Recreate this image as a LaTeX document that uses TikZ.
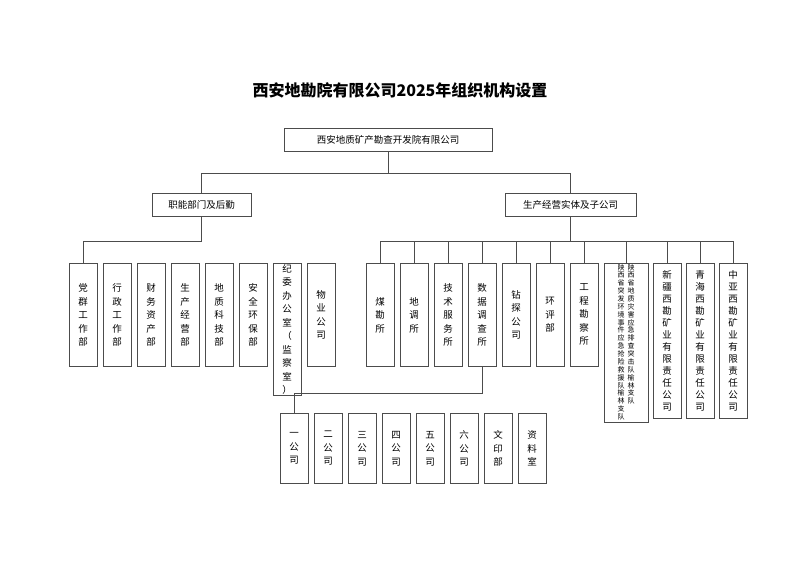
\documentclass[tikz,border=0pt]{standalone}
\usepackage{fontspec}
\setmainfont{Noto Sans CJK SC}
\usetikzlibrary{positioning}

\begin{document}
\begin{tikzpicture}[x=1pt,y=-1pt,thick,
  box/.style={draw=black!70,line width=0.8pt,font=\fontsize{9.5}{13.5}\selectfont,
    inner sep=1pt},
  hbox/.style={box,minimum height=23pt,anchor=north},
  vbox/.style={box,minimum width=28pt,align=center,anchor=north},
  link/.style={draw=black!70,line width=0.8pt}]
  \useasboundingbox (0,0) rectangle (800,565);

  \node[font=\fontsize{16}{18}\selectfont\bfseries] (title) at (400,90) {西安地勘院有限公司2025年组织机构设置};
  \node[hbox,minimum width=208pt] (root) at (388,128) {西安地质矿产勘查开发院有限公司};
  \node[hbox,minimum width=99pt] (func) at (201.5,193) {职能部门及后勤};
  \node[hbox,minimum width=131pt] (prod) at (570.5,193) {生产经营实体及子公司};

  % left departments
  \foreach \n/\t [count=\i from 0] in {l1/党\\群\\工\\作\\部, l2/行\\政\\工\\作\\部,
      l3/财\\务\\资\\产\\部, l4/生\\产\\经\\营\\部, l5/地\\质\\科\\技\\部,
      l6/安\\全\\环\\保\\部, l7/{\fontsize{9.5}{10}\selectfont 纪\\委\\办\\公\\室\\（\\监\\察\\室\\）}, l8/物\\业\\公\\司}
    \node[vbox,minimum height=103pt] (\n) at (83+34*\i,263) {\t};

  % right units
  \foreach \n/\t [count=\i from 0] in {r1/煤\\勘\\所, r2/地\\调\\所, r3/技\\术\\服\\务\\所,
      r4/数\\据\\调\\查\\所, r5/钻\\探\\公\\司, r6/环\\评\\部, r7/工\\程\\勘\\察\\所}
    \node[vbox,minimum height=103pt] (\n) at (380+34*\i,263) {\t};
  \node[vbox,minimum width=44pt,minimum height=155pt,font=\fontsize{7}{7.3}\selectfont] (r8) at (626,263)
    {\renewcommand\arraystretch{0.9}\begin{tabular}{@{}c@{\hspace{3pt}}c@{}}
     陕&陕\\西&西\\省&省\\突&地\\发&质\\环&灾\\境&害\\事&应\\件&急\\应&排\\急&查\\抢&突\\险&击\\救&队\\援&榆\\队&林\\榆&支\\林&队\\支&\\队&
     \end{tabular}};
  \foreach \n/\t/\x in {r9/新\\疆\\西\\勘\\矿\\业\\有\\限\\责\\任\\公\\司/667,
      r10/青\\海\\西\\勘\\矿\\业\\有\\限\\责\\任\\公\\司/700,
      r11/中\\亚\\西\\勘\\矿\\业\\有\\限\\责\\任\\公\\司/733}
    \node[vbox,minimum height=155pt,font=\fontsize{9.5}{12}\selectfont] (\n) at (\x,263) {\t};

  % branch offices
  \foreach \n/\t [count=\i from 0] in {s1/一\\公\\司, s2/二\\公\\司, s3/三\\公\\司,
      s4/四\\公\\司, s5/五\\公\\司, s6/六\\公\\司, s7/文\\印\\部, s8/资\\料\\室}
    \node[vbox,minimum height=70pt] (\n) at (294+34*\i,413) {\t};

  % connectors
  \draw[link] (root.south) -- ++(0,22) coordinate (bus0);
  \draw[link] (func.north) |- (bus0) -| (prod.north);
  \coordinate (busl) at ([yshift=-25]func.south);
  \draw[link] (func.south) -- (busl);
  \foreach \n in {l1,...,l8}
    \draw[link] (\n.north) |- (busl);
  \coordinate (busr) at ([yshift=-25]prod.south);
  \draw[link] (prod.south) -- (busr);
  \foreach \n in {r1,r2,r3,r4,r5,r6,r7,r8,r9,r10,r11}
    \draw[link] (\n.north) |- (busr);
  \coordinate (buss) at ([yshift=-27]r4.south);
  \draw[link] (r4.south) -- (buss);
  \foreach \n in {s1,...,s8}
    \draw[link] (\n.north) |- (buss);
\end{tikzpicture}
\end{document}
